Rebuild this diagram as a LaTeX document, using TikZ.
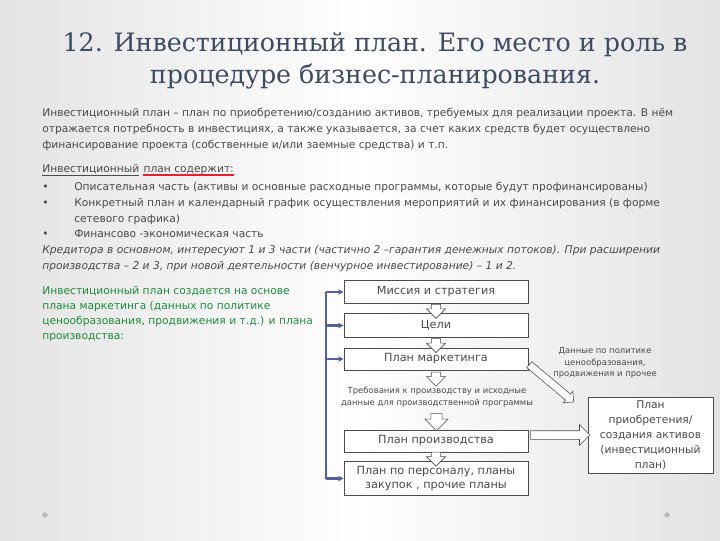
\documentclass[tikz,border=0pt]{standalone}
\usepackage{fontspec}
\setmainfont{DejaVu Sans}
\newfontfamily\titlefont{DejaVu Serif}
\usepackage{tikz}
\usetikzlibrary{arrows.meta,positioning,shapes.arrows,calc}
\definecolor{titleblue}{HTML}{3E4B61}
\definecolor{textgray}{HTML}{4A4A4A}
\definecolor{leafgreen}{HTML}{1F8A3C}
\definecolor{linkblue}{HTML}{55609A}
\definecolor{spellred}{HTML}{E8202A}
\tikzset{
  heading/.style={align=center, text=titleblue, font=\titlefont\fontsize{18}{22.6}\selectfont},
  para/.style={align=left, inner sep=0pt, text=textgray, font=\fontsize{7.6}{11.2}\selectfont},
  plan/.style={draw=gray!60!black, fill=white, align=center, text=textgray, inner sep=1pt,
    minimum width=4.6cm, font=\fontsize{8}{10.5}\selectfont},
  note/.style={align=center, text=textgray, inner sep=0pt, font=\fontsize{6}{8}\selectfont},
  hollow/.style={single arrow, draw=gray!60!black, fill=white, inner sep=0.11cm,
    minimum width=0pt, single arrow head extend=0.12cm},
  hollowdown/.style={hollow, shape border rotate=270, minimum height=0.3cm},
  link/.style={draw=linkblue, line width=1.6pt},
  linkarrow/.style={link, -{Stealth[length=4pt,width=4pt]}}
}
\begin{document}
\begin{tikzpicture}[x=0.025cm, y=-0.025cm]
  % Background
  \shade[left color=gray!22, right color=gray!22, middle color=white] (0,0) rectangle (720,540);
  \useasboundingbox (0,0) rectangle (720,540);
  % Title
  \node[heading] (title) at (375,61) {12. Инвестиционный план. Его место и роль в\\процедуре бизнес-планирования.};
  % Text blocks
  \node[para, anchor=north west] (intro) at (42,108) {Инвестиционный план – план по приобретению/созданию активов, требуемых для реализации проекта. В нём\\
    отражается потребность в инвестициях, а также указывается, за счет каких средств будет осуществлено\\
    финансирование проекта (собственные и/или заемные средства) и т.п.};
  \node[para, anchor=base west] (head1) at (42,172) {\underline{Инвестиционный}};
  \node[para, anchor=base west] (head2) at ([xshift=2.6pt]head1.base east) {план содержит:};
  \draw[spellred, line width=1pt] ([yshift=-2pt]head2.base west) -- ([yshift=-2pt]head2.base east);
  \node[para, anchor=north west] (content) at (42,182) {\makebox[0.8cm][l]{•}Описательная часть (активы и основные расходные программы, которые будут профинансированы)\\
    \makebox[0.8cm][l]{•}Конкретный план и календарный график осуществления мероприятий и их финансирования (в форме\\
    \hspace*{0.8cm}сетевого графика)\\
    \makebox[0.8cm][l]{•}Финансово -экономическая часть\\
    \textit{Кредитора в основном, интересуют 1 и 3 части (частично 2 –гарантия денежных потоков). При расширении}\\
    \textit{производства – 2 и 3, при новой деятельности (венчурное инвестирование) – 1 и 2.}};
  \node[para, text=leafgreen, anchor=north west, font=\fontsize{7.6}{10.6}\selectfont] (basis) at (42,286) {Инвестиционный план создается на основе\\
    плана маркетинга (данных по политике\\
    ценообразования, продвижения и т.д.) и плана\\
    производства:};
  % Plans
  \node[plan, minimum height=0.575cm] (mission) at (436,292) {Миссия и стратегия};
  \node[plan, minimum height=0.6cm] (goals) at (436,325.5) {Цели};
  \node[plan, minimum height=0.55cm] (market) at (436,359) {План маркетинга};
  \node[note] (needs) at (437,397) {Требования к производству и исходные\\данные для производственной программы};
  \node[plan, minimum height=0.55cm] (prod) at (436,441) {План производства};
  \node[plan, minimum height=0.85cm] (staff) at (436,478.5) {План по персоналу, планы\\закупок , прочие планы};
  \node[plan, minimum width=3.125cm, minimum height=1.9cm, font=\fontsize{7.6}{10.6}\selectfont] (invest) at (650.5,435) {План\\приобретения/\\создания активов\\(инвестиционный\\план)};
  \node[note] (pricing) at (605,363) {Данные по политике\\ценообразования,\\продвижения и прочее};
  % Hollow arrows
  \node[hollowdown] (a1) at ($(mission.south)!0.5!(goals.north)+(0,0.5)$) {};
  \node[hollowdown] (a2) at ($(goals.south)!0.5!(market.north)+(0,0.5)$) {};
  \node[hollowdown, minimum height=0.33cm] (a3) at ($(market.south)+(0,6.5)$) {};
  \node[hollowdown, minimum height=0.42cm, inner sep=0.135cm, single arrow head extend=0.15cm] (a4) at ($(needs.south)!0.5!(prod.north)+(0,1)$) {};
  \node[hollowdown, minimum height=0.26cm] (a5) at ($(prod.south)!0.5!(staff.north)$) {};
  \node[hollow, rotate=-40, minimum height=1.45cm, inner sep=0.09cm, single arrow head extend=0.09cm] (a6) at (550,382) {};
  \node[hollow, minimum height=1.48cm, inner sep=0.1cm, single arrow head extend=0.15cm] (a7) at ($(prod.east |- invest.west)!0.5!(invest.west)$) {};
  % Link rail
  \coordinate (rail) at (326,0);
  \draw[link] (rail |- mission.west) -- (rail |- staff.west);
  \draw[linkarrow] (rail |- mission.west) -- (mission.west);
  \draw[linkarrow] (rail |- goals.west) -- (goals.west);
  \draw[linkarrow] (rail |- market.west) -- (market.west);
  \draw[linkarrow] (rail |- staff.west) -- (staff.west);
  % Bullets
  \fill[gray!55] (45,515) circle (2.6);
  \fill[gray!55] (667,515) circle (2.6);
\end{tikzpicture}
\end{document}
